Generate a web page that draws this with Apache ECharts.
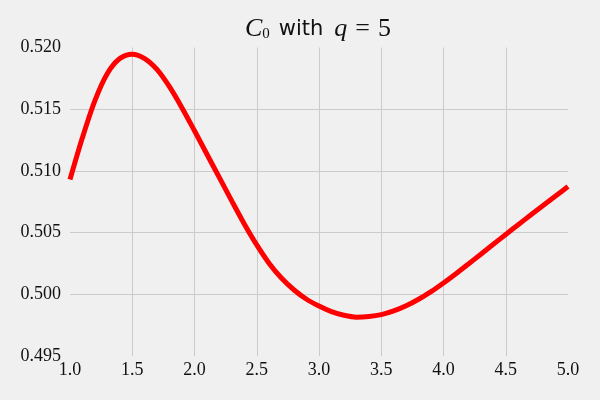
<!DOCTYPE html>
<html>
<head>
<meta charset="utf-8">
<script src="https://cdn.jsdelivr.net/npm/echarts@6/dist/echarts.min.js"></script>
<style>
  html, body { margin: 0; padding: 0; background: #f0f0f0; }
  #chart { width: 600px; height: 400px; }
</style>
</head>
<body>
<div id="chart"></div>
<script>
// values (step 0.1)
const xValues = [
  1.0, 1.1, 1.2, 1.3, 1.4, 1.5, 1.6, 1.7, 1.8, 1.9,
  2.0, 2.1, 2.2, 2.3, 2.4, 2.5, 2.6, 2.7, 2.8, 2.9,
  3.0, 3.1, 3.2, 3.3, 3.4, 3.5, 3.6, 3.7, 3.8, 3.9,
  4.0, 4.1, 4.2, 4.3, 4.4, 4.5, 4.6, 4.7, 4.8, 4.9, 5.0
]
const c0Values = [
  0.5093, 0.5127, 0.5157, 0.5179, 0.5191, 0.51945, 0.5191, 0.5182, 0.5168, 0.5151,
  0.51325, 0.51135, 0.50945, 0.50755, 0.5057, 0.5040, 0.5025, 0.5013, 0.50035, 0.4996,
  0.49905, 0.4986, 0.4983, 0.49815, 0.4982, 0.49835, 0.49865, 0.49907, 0.4996, 0.50022,
  0.50092, 0.50167, 0.50245, 0.50325, 0.50405, 0.50485, 0.50564, 0.50642, 0.5072, 0.50797, 0.50873
]
const xTicks = [1.0, 1.5, 2.0, 2.5, 3.0, 3.5, 4.0, 4.5, 5.0]
const yTicks = [0.495, 0.500, 0.505, 0.510, 0.515, 0.520]

const chart = echarts.init(document.getElementById('chart'))

const labelFont = 'Liberation Serif'
const textColor = '#111'

const option = {
  backgroundColor: '#f0f0f0',
  animation: false,
  title: {
    // C_0 with q = 5
    text: '{m|C}{sub|0}{t|with}{m|q}{eq|=}{n|5}',
    left: 313,
    textAlign: 'center',
    top: 11,
    textStyle: {
      fontWeight: 'normal',
      rich: {
        m: { fontFamily: labelFont, fontStyle: 'italic', fontWeight: 'normal', fontSize: 26, color: textColor },
        sub: { fontFamily: labelFont, fontWeight: 'normal', fontSize: 15, color: textColor, verticalAlign: 'bottom', padding: [10, 0, 0, 0] },
        t: { fontFamily: 'DejaVu Sans', fontWeight: 'normal', fontSize: 21, color: textColor, padding: [2, 11, 0, 9] },
        eq: { fontFamily: labelFont, fontWeight: 'normal', fontSize: 26, color: textColor, padding: [0, 8, 0, 8] },
        n: { fontFamily: labelFont, fontWeight: 'normal', fontSize: 26, color: textColor }
      }
    }
  },
  grid: {
    left: 70,
    right: 32,
    top: 47.5,
    bottom: 44
  },
  xAxis: {
    type: 'value',
    min: xTicks[0],
    max: xTicks[xTicks.length - 1],
    interval: 0.5,
    axisLine: { show: false },
    axisTick: { show: false },
    axisLabel: {
      margin: 5,
      fontFamily: labelFont,
      fontSize: 18,
      color: textColor,
      formatter: (v) => v.toFixed(1)
    },
    splitLine: {
      show: true,
      showMinLine: false,
      showMaxLine: false,
      lineStyle: { color: '#cbcbcb', width: 1 }
    }
  },
  yAxis: {
    type: 'value',
    min: yTicks[0],
    max: yTicks[yTicks.length - 1],
    interval: 0.005,
    axisLine: { show: false },
    axisTick: { show: false },
    axisLabel: {
      margin: 9,
      fontFamily: labelFont,
      fontSize: 18,
      color: textColor,
      formatter: (v) => v.toFixed(3)
    },
    splitLine: {
      show: true,
      showMinLine: false,
      showMaxLine: false,
      lineStyle: { color: '#cbcbcb', width: 1 }
    }
  },
  series: [
    {
      type: 'line',
      data: xValues.map((x, i) => [x, c0Values[i]]),
      smooth: 0.3,
      showSymbol: false,
      lineStyle: { color: '#ff0000', width: 5 }
    }
  ]
}

chart.setOption(option)
</script>
</body>
</html>
